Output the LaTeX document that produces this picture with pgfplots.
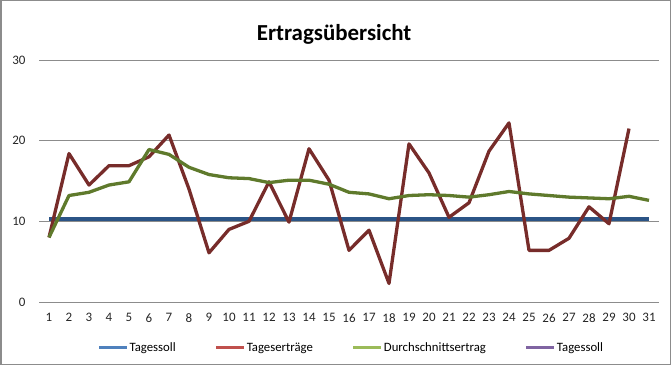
\documentclass[border=0pt]{standalone}
\usepackage{fontspec}
\setmainfont{Carlito}
\usepackage{pgfplots}
\pgfplotsset{compat=1.18}
\definecolor{legblue}{HTML}{4F81BD}
\definecolor{legred}{HTML}{C0504D}
\definecolor{leggreen}{HTML}{9BBB59}
\definecolor{legpurple}{HTML}{8064A2}
\definecolor{lineblue}{HTML}{2B5486}
\definecolor{linered}{HTML}{772C2A}
\definecolor{linegreen}{HTML}{5F7A2C}
\definecolor{gridgray}{HTML}{8C8C8C}
\begin{document}
\begin{tikzpicture}
\useasboundingbox (0,0) rectangle (671bp,365bp);
\draw[color=gridgray, line width=1.5bp] (0.75bp,0.75bp) rectangle (670.25bp,364.25bp);
\begin{axis}[
  at={(39bp,63bp)}, anchor=south west,
  scale only axis, width=620bp, height=242bp,
  xmin=0.5, xmax=31.5, ymin=0, ymax=30,
  xtick={1,...,31}, ytick={0,10,20,30},
  axis line style={draw=none}, tick style={draw=none},
  ymajorgrids, grid style={color=gridgray, line width=0.9bp},
  /pgf/number format/assume math mode=true,
  ticklabel style={font=\fontsize{13}{15}\selectfont, color=black!85},
  xticklabel style={yshift=-8bp},
  yticklabel style={xshift=-10bp},
  title={Ertragsübersicht},
  title style={font=\bfseries\fontsize{23}{27}\selectfont, at={(0.476,1.082)}, anchor=center},
  legend style={at={(0.503,-0.19)}, anchor=center, draw=none, fill=none,
    legend columns=4, font=\fontsize{12.8}{14}\selectfont,
    /tikz/every even column/.append style={column sep=38bp},
    nodes={inner xsep=1bp, inner ysep=1bp}},
  legend image code/.code={\draw[#1, line width=3bp] (0bp,0bp) -- (28bp,0bp);},
  line join=round,
]
\addlegendimage{legblue}\addlegendentry{Tagessoll}
\addlegendimage{legred}\addlegendentry{Tageserträge}
\addlegendimage{leggreen}\addlegendentry{Durchschnittsertrag}
\addlegendimage{legpurple}\addlegendentry{Tagessoll}
\addplot[forget plot, color=lineblue, line width=3.2bp] coordinates {
(1,10.3)(2,10.3)(3,10.3)(4,10.3)(5,10.3)(6,10.3)(7,10.3)(8,10.3)(9,10.3)(10,10.3)
(11,10.3)(12,10.3)(13,10.3)(14,10.3)(15,10.3)(16,10.3)(17,10.3)(18,10.3)(19,10.3)(20,10.3)
(21,10.3)(22,10.3)(23,10.3)(24,10.3)(25,10.3)(26,10.3)(27,10.3)(28,10.3)(29,10.3)(30,10.3)(31,10.3)};
\addplot[forget plot, color=linered, line width=3.3bp] coordinates {
(1,8.0)(2,18.4)(3,14.5)(4,16.9)(5,16.9)(6,18.0)(7,20.7)(8,14.0)(9,6.1)(10,9.0)
(11,10.0)(12,14.9)(13,9.9)(14,19.0)(15,15.1)(16,6.4)(17,8.9)(18,2.3)(19,19.6)(20,16.0)
(21,10.5)(22,12.3)(23,18.7)(24,22.2)(25,6.4)(26,6.4)(27,7.9)(28,11.8)(29,9.7)(30,21.5)};
\addplot[forget plot, color=linegreen, line width=3.3bp] coordinates {
(1,8.0)(2,13.2)(3,13.6)(4,14.5)(5,14.9)(6,18.9)(7,18.3)(8,16.7)(9,15.8)(10,15.4)
(11,15.3)(12,14.8)(13,15.1)(14,15.1)(15,14.6)(16,13.6)(17,13.4)(18,12.8)(19,13.2)(20,13.3)
(21,13.2)(22,13.0)(23,13.3)(24,13.7)(25,13.4)(26,13.2)(27,13.0)(28,12.9)(29,12.8)(30,13.1)(31,12.6)};
\end{axis}
\end{tikzpicture}
\end{document}
